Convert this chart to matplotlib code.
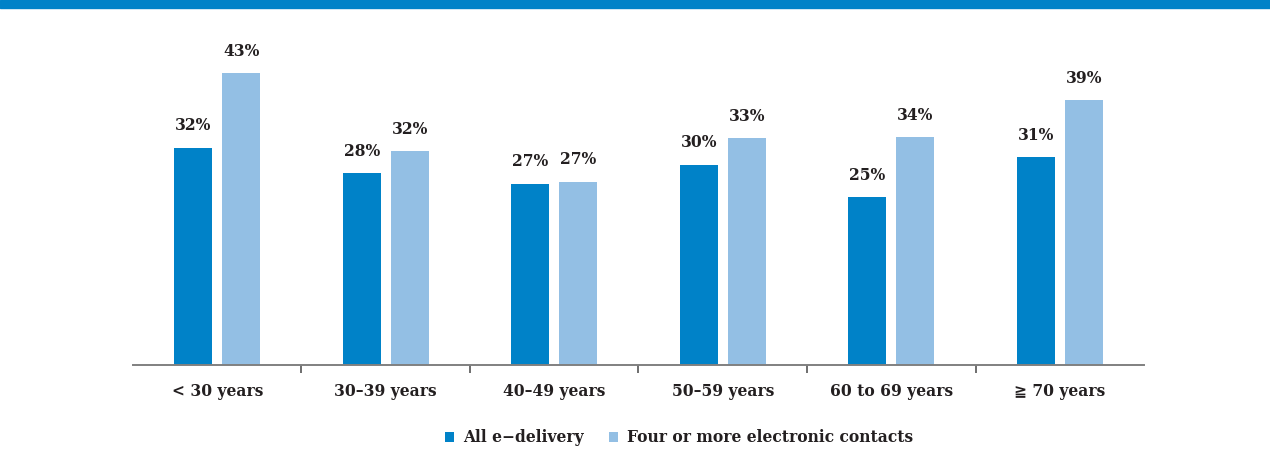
import matplotlib.pyplot as plt
from matplotlib.patches import Rectangle
import numpy as np

plt.rcParams['font.family'] = ['DejaVu Serif', 'DejaVu Sans', 'Noto Sans CJK JP']

categories = ['< 30 years', '30–39 years', '40–49 years', '50–59 years', '60 to 69 years', '≧ 70 years']
all_edelivery = [32.0, 28.3, 26.7, 29.5, 24.7, 30.6]
four_or_more = [43.0, 31.5, 27.0, 33.4, 33.6, 39.0]
series_names = ['All e−delivery', 'Four or more electronic contacts']

dark = '#0082C8'
light = '#93BFE4'
txt = '#231F20'

fig = plt.figure(figsize=(12.7, 4.49), dpi=100)
ax = fig.add_axes([0.1047, 0.1871, 0.7961, 0.7684])

# top band
fig.patches.append(Rectangle((0, 441 / 449), 1, 8 / 449, transform=fig.transFigure,
                             color=dark, zorder=0))

x = np.arange(len(categories))
w = 0.2255
off = 0.1424
b1 = ax.bar(x - off, all_edelivery, w, color=dark, label=series_names[0])
b2 = ax.bar(x + off, four_or_more, w, color=light, label=series_names[1])

fs = 11.2
fw = 'bold'
for bars, vals in [(b1, all_edelivery), (b2, four_or_more)]:
    for r, v in zip(bars, vals):
        ax.annotate(f"{v:.0f}%", (r.get_x() + r.get_width() / 2, v),
                    xytext=(0, 9.5), textcoords='offset points',
                    ha='center', va='bottom', fontsize=fs, fontweight=fw, color=txt)

ax.set_xlim(-0.5, len(categories) - 0.5)
ax.set_ylim(0, 50.8)

for s in ['top', 'right', 'left']:
    ax.spines[s].set_visible(False)
ax.spines['bottom'].set_color('#808080')
ax.spines['bottom'].set_linewidth(1.4)
ax.set_yticks([])

ax.set_xticks(x[:-1] + 0.5)
ax.set_xticklabels([])
ax.tick_params(axis='x', which='major', length=6, width=1.2, color='#555555')
ax.set_xticks(x, minor=True)
ax.set_xticklabels(categories, minor=True, fontsize=fs, fontweight=fw, color=txt)
ax.tick_params(axis='x', which='minor', length=0, pad=13)

fig.legend(handles=[b1, b2], labels=series_names, loc='center',
           bbox_to_anchor=(679 / 1270, 1 - 438 / 449), ncol=2, frameon=False,
           handlelength=0.6, handleheight=0.6, handletextpad=0.6, columnspacing=1.6,
           prop={'size': fs, 'weight': fw}, labelcolor=txt)

fig.savefig('out.png', dpi=100)
